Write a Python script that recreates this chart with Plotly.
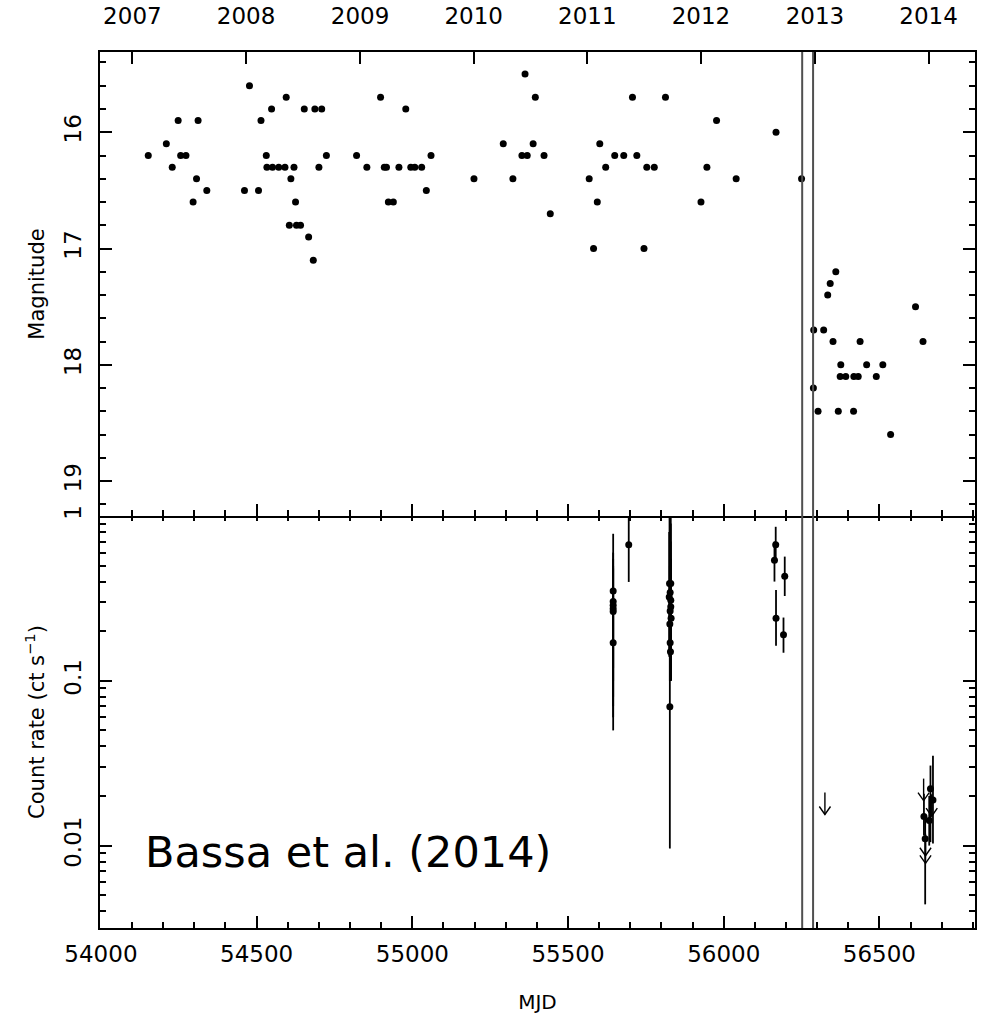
import plotly.graph_objects as go

# ---------------- data ----------------
# optical magnitudes (top panel)
opt_mjd = [54152, 54210, 54229, 54248, 54256, 54273, 54296, 54307, 54312, 54340,
           54461, 54477, 54506, 54514, 54531, 54533, 54548, 54551, 54571, 54591, 54620,
           54595, 54605, 54610, 54625, 54628, 54641, 54653, 54667, 54682, 54687, 54709,
           54700, 54724, 54821, 54854, 54898, 54910, 54917, 54923, 54939, 54957, 54979,
           54995, 55008, 55030, 55045, 55060, 55198, 55292, 55323, 55352, 55369, 55362,
           55388, 55395, 55423, 55443, 55568, 55582, 55594, 55602, 55621, 55650, 55679,
           55707, 55721, 55744, 55753, 55777, 55813, 55927, 55946, 55977, 56040, 56168,
           56250, 56360, 56342, 56334, 56616, 56289, 56321, 56351, 56438, 56640, 56376,
           56459, 56511, 56374, 56392, 56418, 56432, 56490, 56288, 56303, 56368, 56417,
           56536]
opt_mag = [16.2, 16.1, 16.3, 15.9, 16.2, 16.2, 16.6, 16.4, 15.9, 16.5,
           16.5, 15.6, 16.5, 15.9, 16.2, 16.3, 15.8, 16.3, 16.3, 16.3, 16.3,
           15.7, 16.8, 16.4, 16.6, 16.8, 16.8, 15.8, 16.9, 17.1, 15.8, 15.8,
           16.3, 16.2, 16.2, 16.3, 15.7, 16.3, 16.3, 16.6, 16.6, 16.3, 15.8,
           16.3, 16.3, 16.3, 16.5, 16.2, 16.4, 16.1, 16.4, 16.2, 16.2, 15.5,
           16.1, 15.7, 16.2, 16.7, 16.4, 17.0, 16.6, 16.1, 16.3, 16.2, 16.2,
           15.7, 16.2, 17.0, 16.3, 16.3, 15.7, 16.6, 16.3, 15.9, 16.4, 16.0,
           16.4, 17.2, 17.3, 17.4, 17.5, 17.7, 17.7, 17.8, 17.8, 17.8, 18.0,
           18.0, 18.0, 18.1, 18.1, 18.1, 18.1, 18.1, 18.2, 18.4, 18.4, 18.4,
           18.6]

# X-ray count rates (bottom panel) with upper / lower ends of the error bars
xr_mjd = [55645, 55645, 55645, 55645, 55645, 55645,
          55695,
          55826, 55830, 55828, 55825, 55830, 55830, 55828, 55831, 55827, 55828, 55829, 55827,
          56167, 56163, 56196, 56168, 56192,
          56643, 56647, 56664, 56672, 56660]
xr_rate = [0.351, 0.303, 0.287, 0.274, 0.263, 0.170,
           0.670,
           0.389, 0.389, 0.343, 0.323, 0.308, 0.281, 0.265, 0.240, 0.221, 0.170, 0.150, 0.0695,
           0.670, 0.539, 0.431, 0.240, 0.190,
           0.0150, 0.0110, 0.0221, 0.0189, 0.0142]
xr_hi = [0.78, 0.60, 0.55, 0.50, 0.48, 0.35,
         1.20,
         1.20, 0.90, 0.85, 0.80, 1.10, 0.70, 0.60, 0.55, 0.50, 0.45, 0.40, 0.30,
         0.86, 0.70, 0.567, 0.356, 0.242,
         0.0206, 0.0150, 0.0306, 0.0351, 0.0200]
xr_lo = [0.12, 0.10, 0.08, 0.07, 0.06, 0.05,
         0.398,
         0.15, 0.20, 0.12, 0.14, 0.12, 0.10, 0.11, 0.10, 0.10, 0.10, 0.10, 0.0096,
         0.54, 0.40, 0.327, 0.163, 0.148,
         0.0115, 0.0044, 0.0105, 0.0103, 0.0100]

# X-ray upper limits
ul_mjd = [56325, 56648, 56648, 56668, 56642]
ul_rate = [0.021, 0.0118, 0.0106, 0.0205, 0.0255]

# vertical marker lines (MJD)
vline_mjd = [56252, 56287]

# calendar-year axis
year_mjd = [54101, 54466, 54832, 55197, 55562, 55927, 56293, 56658]
year_lab = ["2007", "2008", "2009", "2010", "2011", "2012", "2013", "2014"]

mag_ticks = [16, 17, 18, 19]
rate_ticks = [0.01, 0.1, 1]
rate_ticklab = ["0.01", "0.1", "1"]

# ---------------- figure ----------------
X_RANGE = [53997, 56807]
FONT = "DejaVu Sans"
TICKF = dict(family=FONT, size=23, color="black")

fig = go.Figure()

fig.add_trace(go.Scatter(x=opt_mjd, y=opt_mag, mode="markers", xaxis="x", yaxis="y",
                         marker=dict(color="black", size=7), showlegend=False))

err_up = [h - r for h, r in zip(xr_hi, xr_rate)]
err_dn = [r - l for r, l in zip(xr_rate, xr_lo)]
fig.add_trace(go.Scatter(x=xr_mjd, y=xr_rate, mode="markers", xaxis="x2", yaxis="y2",
                         marker=dict(color="black", size=7),
                         error_y=dict(type="data", symmetric=False, array=err_up,
                                      arrayminus=err_dn, color="black", thickness=1.8, width=0),
                         showlegend=False))

# upper-limit arrows built from the limit values
ARROW_DEC = 22 / 165.0   # arrow length in decades
HEAD_DEC = 8 / 165.0
HEAD_DX = 18
ax_, ay_ = [], []
for m, r in zip(ul_mjd, ul_rate):
    tip = r * 10 ** (-ARROW_DEC)
    back = tip * 10 ** (HEAD_DEC)
    ax_ += [m, m, None, m - HEAD_DX, m, m + HEAD_DX, None]
    ay_ += [r, tip, None, back, tip, back, None]
fig.add_trace(go.Scatter(x=ax_, y=ay_, mode="lines", xaxis="x2", yaxis="y2",
                         line=dict(color="black", width=1.4), showlegend=False))

# placeholder traces so the overlay axes are drawn
fig.add_trace(go.Scatter(x=[None], y=[None], xaxis="x3", yaxis="y", showlegend=False,
                         hoverinfo="skip"))
fig.add_trace(go.Scatter(x=[None], y=[None], xaxis="x4", yaxis="y2", showlegend=False,
                         hoverinfo="skip"))

for v in vline_mjd:
    fig.add_shape(type="line", xref="x", yref="paper", x0=v, x1=v, y0=0, y1=1,
                  line=dict(color="#505050", width=2))

split = 412 / 876.0
common_ax = dict(showline=True, linecolor="black", linewidth=1.8, ticks="inside",
                 tickcolor="black", tickwidth=1.6, showgrid=False, zeroline=False,
                 tickfont=TICKF, automargin=False)

fig.update_layout(
    width=982, height=1014,
    margin=dict(l=100, r=7, t=52, b=86),
    paper_bgcolor="white", plot_bgcolor="white",
    font=dict(family=FONT, color="black"),
    xaxis=dict(common_ax, domain=[0, 1], anchor="y", range=X_RANGE, tick0=54000, dtick=500,
               ticklen=12, showticklabels=False,
               minor=dict(dtick=100, tick0=54000, ticklen=6, ticks="inside",
                          tickcolor="black", tickwidth=1.6)),
    xaxis3=dict(common_ax, overlaying="x", anchor="y", side="top", range=X_RANGE,
                tickmode="array", tickvals=year_mjd, ticktext=year_lab, ticklen=12,
                ticklabelstandoff=17),
    yaxis=dict(common_ax, domain=[split, 1], anchor="x", range=[19.3, 15.31],
               tickmode="array", tickvals=mag_ticks, ticklen=12, tickangle=-90,
               mirror="ticks", ticklabelstandoff=8,
               minor=dict(dtick=0.2, tick0=15, ticklen=6, ticks="inside",
                          tickcolor="black", tickwidth=1.6),
               title=dict(text="Magnitude", font=dict(family=FONT, size=21), standoff=10)),
    xaxis2=dict(common_ax, domain=[0, 1], anchor="y2", range=X_RANGE, tick0=54000, dtick=500,
                ticklen=12, tickformat="d", ticklabelstandoff=4,
                minor=dict(dtick=100, tick0=54000, ticklen=6, ticks="inside",
                           tickcolor="black", tickwidth=1.6),
                title=dict(text="MJD", font=dict(family=FONT, size=20), standoff=40)),
    xaxis4=dict(common_ax, overlaying="x2", anchor="y2", side="top", range=X_RANGE,
                showline=False, tick0=54000, dtick=100, ticklen=5, showticklabels=False),
    yaxis2=dict(common_ax, domain=[0, split], anchor="x2", type="log", range=[-2.5, 0],
                tickmode="array", tickvals=rate_ticks, ticktext=rate_ticklab, ticklen=12,
                tickangle=-90, mirror="ticks", ticklabelstandoff=8,
                minor=dict(tickvals=[0.003, 0.004, 0.005, 0.006, 0.007, 0.008, 0.009,
                                     0.02, 0.03, 0.04, 0.05, 0.06, 0.07, 0.08, 0.09,
                                     0.2, 0.3, 0.4, 0.5, 0.6, 0.7, 0.8, 0.9],
                           ticklen=6, ticks="inside", tickcolor="black", tickwidth=1.6),
                title=dict(text="Count rate (ct s<sup>\u22121</sup>)",
                           font=dict(family=FONT, size=21), standoff=10)),
    annotations=[dict(text="Bassa et al. (2014)", xref="paper", yref="paper",
                      x=43 / 875.0, y=(928 - 852) / 876.0, xanchor="left", yanchor="middle",
                      showarrow=False, font=dict(family=FONT, size=43, color="black"))],
)

fig.write_html("out.html")
